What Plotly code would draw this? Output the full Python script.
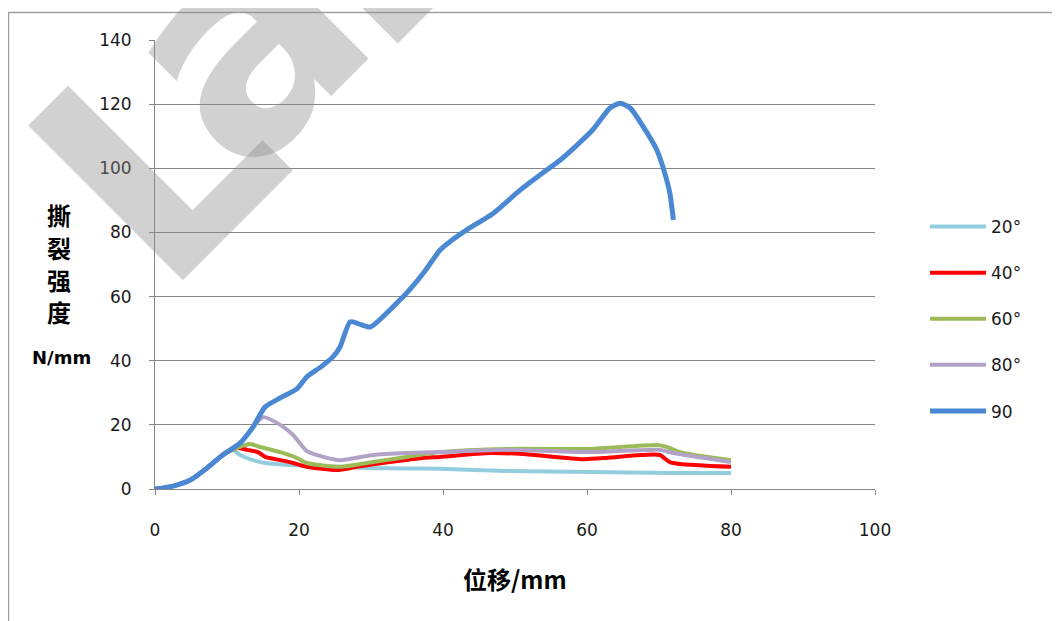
import plotly.graph_objects as go

# ---- data ----
x_90 = [0, 2.5, 4.9, 7.2, 9.4, 11.8, 13.6, 15.3, 17.4, 19.7, 21.1, 23, 24.7, 25.7, 27.1, 28.3, 29.9,
        32.2, 34, 35.5, 37.5, 39.6, 41.5, 43.3, 47, 50.7, 53.5, 56.3, 58.5, 60.8, 63.2, 64.6, 66,
        67.8, 69.7, 70.8, 71.5, 72]
y_90 = [0, 0.9, 2.8, 6.5, 10.6, 14.3, 19.3, 25.6, 28.4, 31.2, 35, 38, 41.2, 44.3, 52.1, 51.5, 50.5,
        54.9, 58.9, 62.5, 68, 74.5, 78, 80.8, 86, 93.2, 98, 102.6, 107, 112, 118.8, 120.3, 118.8,
        113, 105.7, 98.5, 92.3, 83.9]

x_20 = [0, 2.5, 4.9, 7.2, 9.4, 10.8, 11.8, 13.6, 15.5, 18.8, 21.1, 25.7, 30.3, 35, 39.6, 48.9, 60.4, 72, 80]
y_20 = [0, 0.9, 2.8, 6.5, 10.6, 12.2, 10.6, 9.0, 8.0, 7.5, 7.2, 6.9, 6.5, 6.4, 6.3, 5.6, 5.3, 5.0, 5.0]

x_40 = [0, 2.5, 4.9, 7.2, 9.4, 11.4, 12.8, 14.3, 15.3, 17.4, 19.2, 21.1, 25.3, 28, 32.6, 37.2, 39.6,
        46.5, 51.1, 59.5, 62.7, 67.4, 70.1, 71.5, 72.9, 80]
y_40 = [0, 0.9, 2.8, 6.5, 10.6, 12.8, 12.2, 11.5, 10.0, 9.0, 8.1, 6.9, 5.9, 6.9, 8.4, 9.7, 10.0,
        11.2, 10.9, 9.3, 9.7, 10.6, 10.6, 8.4, 7.8, 6.9]

x_60 = [0, 2.5, 4.9, 7.2, 9.4, 11.4, 13.2, 14.6, 17.4, 19.7, 21.1, 25.7, 30.3, 35, 39.6, 48.9, 60.4,
        69.7, 71.1, 72.9, 80]
y_60 = [0, 0.9, 2.8, 6.5, 10.6, 12.8, 14.0, 13.1, 11.5, 9.7, 8.1, 6.9, 8.4, 10.0, 11.5, 12.5, 12.5,
        13.7, 13.1, 11.5, 9.0]

x_80 = [0, 2.5, 4.9, 7.2, 9.4, 11.8, 13.6, 15, 17.4, 19.2, 21.1, 23.9, 25.7, 30.3, 35, 39.6, 48.9,
        60.4, 70.1, 72, 80]
y_80 = [0, 0.9, 2.8, 6.5, 10.6, 14.3, 19.3, 22.4, 20.0, 16.8, 11.8, 9.7, 9.0, 10.6, 11.2, 11.5, 12.2,
        11.5, 12.2, 11.2, 8.4]

series_names = ["20°", "40°", "60°", "80°", "90"]
series_x = [x_20, x_40, x_60, x_80, x_90]
series_y = [y_20, y_40, y_60, y_80, y_90]
series_colors = ["#93cddd", "#ff0000", "#9bbb59", "#b3a2c7", "#4a88d4"]
series_widths = [4, 4, 4, 4, 5]

x_ticks = [0, 20, 40, 60, 80, 100]
y_ticks = [0, 20, 40, 60, 80, 100, 120, 140]

x_title = "位移/mm"
y_title_chars = ["撕", "裂", "强", "度"]
y_unit = "N/mm"
watermark_letters = ["L", "a", "b"]

# ---- figure ----
OFF = 8  # page body margin in the browser
W, H = 1060, 621
# plot area in page pixels: x 155..875, y 40..489
L = 155 - OFF
T = 40 - OFF
R = W - (875 - OFF)
B = H - (489 - OFF)
pw, ph = W - L - R, H - T - B


def px2paper(px, py):
    """page pixel -> paper coordinates"""
    fx = px - OFF
    fy = py - OFF
    return (fx - L) / pw, (H - B - fy) / ph


fig = go.Figure()
for n, xs, ys, c, w in zip(series_names, series_x, series_y, series_colors, series_widths):
    fig.add_trace(go.Scatter(x=xs, y=ys, mode="lines", name=n, legendgroup=n,
                             line=dict(color=c, width=w, shape="spline", smoothing=0.6)))

tickfont = dict(family="DejaVu Sans", size=17, color="#1a1a1a")
fig.update_layout(
    width=W, height=H,
    margin=dict(l=L, r=R, t=T, b=B, pad=0),
    paper_bgcolor="white", plot_bgcolor="white",
    showlegend=True,
    legend=dict(x=px2paper(925, 0)[0], y=px2paper(0, 209)[1], xanchor="left", yanchor="top",
                font=tickfont, tracegroupgap=21, bgcolor="rgba(0,0,0,0)", itemwidth=56),
    xaxis=dict(range=[0, 100], tickvals=x_ticks, showgrid=False, zeroline=False,
               showline=True, linecolor="#868686", linewidth=1,
               ticks="outside", ticklen=5, tickcolor="#868686", tickfont=tickfont,
               ticklabelstandoff=21),
    yaxis=dict(range=[0, 140], tickvals=y_ticks, showgrid=True, gridcolor="#868686", gridwidth=1,
               zeroline=False, showline=True, linecolor="#868686", linewidth=1,
               ticks="outside", ticklen=5, tickcolor="#868686", tickfont=tickfont,
               ticklabelstandoff=14),
)

ann = []
# watermark letters (semi-transparent, rotated)
for letter, (cx, cy) in zip(watermark_letters, [(157, 159), (240, 40), (382, -88)]):
    xx, yy = px2paper(cx, cy)
    ann.append(dict(text="<b>" + letter + "</b>", x=xx, y=yy, xref="paper", yref="paper",
                    showarrow=False, xanchor="center", yanchor="middle", textangle=-45,
                    font=dict(family="DejaVu Sans", size=300, color="rgba(140,140,140,0.4)")))
# x title
xx, yy = px2paper(515, 578)
ann.append(dict(text="<b>" + x_title + "</b>", x=xx, y=yy, xref="paper", yref="paper",
                showarrow=False, xanchor="center", yanchor="middle",
                font=dict(family="Noto Sans CJK SC", size=24, color="black")))
# y title stacked characters
for ch, py in zip(y_title_chars, [215, 247, 279, 311]):
    xx, yy = px2paper(59, py)
    ann.append(dict(text="<b>" + ch + "</b>", x=xx, y=yy, xref="paper", yref="paper",
                    showarrow=False, xanchor="center", yanchor="middle",
                    font=dict(family="Noto Sans CJK SC", size=24, color="black")))
xx, yy = px2paper(62, 357)
ann.append(dict(text="<b>" + y_unit + "</b>", x=xx, y=yy, xref="paper", yref="paper",
                showarrow=False, xanchor="center", yanchor="middle",
                font=dict(family="DejaVu Sans", size=18, color="black")))
fig.update_layout(annotations=ann)

# outer chart border (only left and top edges visible in the reference)
x0, y1 = px2paper(8.5, 12.5)
fig.add_shape(type="rect", xref="paper", yref="paper", x0=x0, y0=-1, x1=2, y1=y1,
              line=dict(color="#a0a0a0", width=1.5), fillcolor="rgba(0,0,0,0)", layer="below")

fig.write_html("out.html")
